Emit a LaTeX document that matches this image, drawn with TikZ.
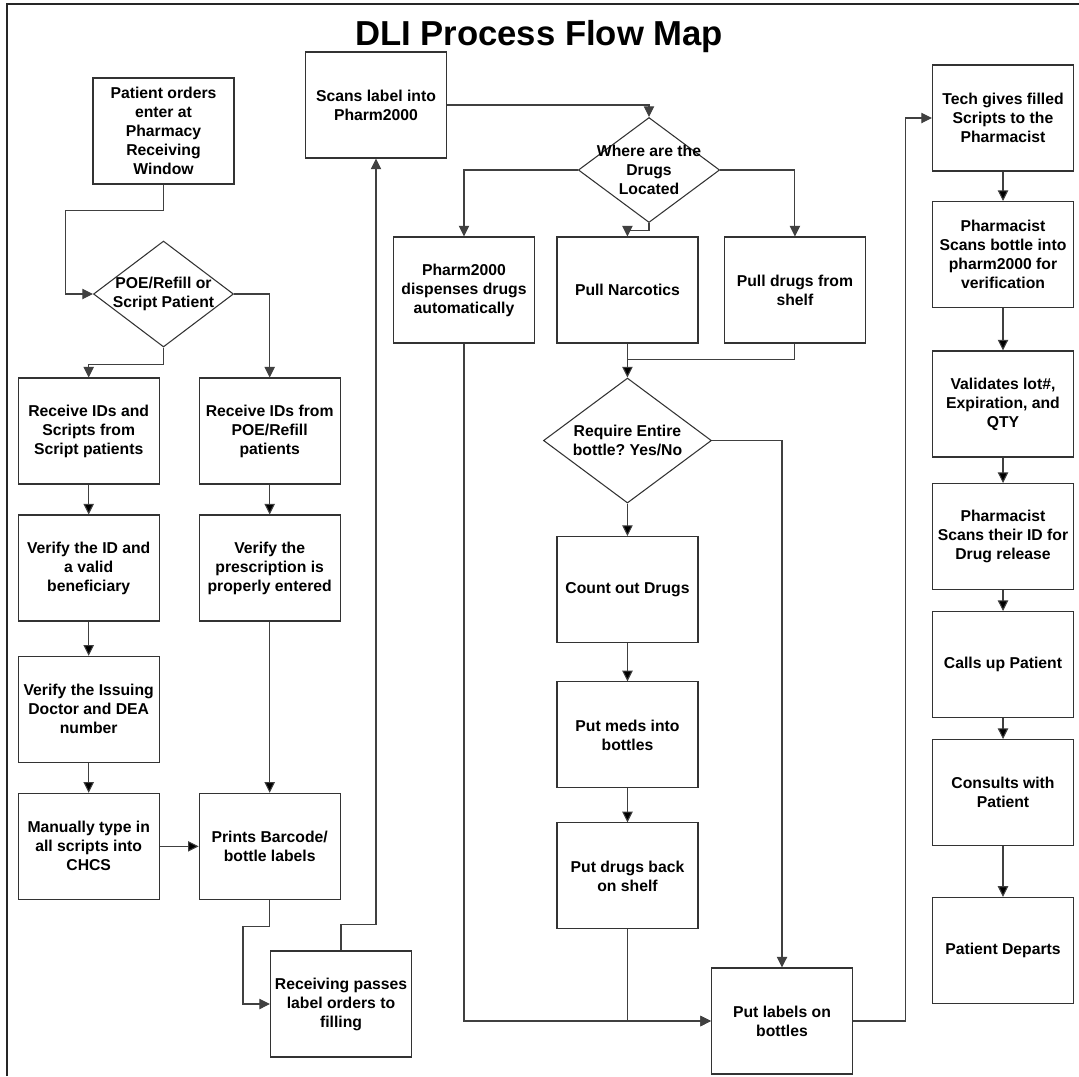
\documentclass[tikz,border=0pt]{standalone}
\usepackage{fontspec}
\setmainfont{Liberation Sans}
\usetikzlibrary{arrows.meta}
\usetikzlibrary{positioning}
\usetikzlibrary{shapes.geometric}
\frenchspacing

\tikzset{
  txt/.style={font=\bfseries\fontsize{11.8}{14.25}\selectfont, align=center},
  box/.style={draw=black!80, line width=0.8pt, rectangle, minimum width=105.75pt, minimum height=79.5pt, inner sep=2pt, txt},
  decision/.style={draw=black!80, line width=0.8pt, diamond, inner sep=0pt},
  flow/.style={->, draw=black!75, line width=0.8pt},
}

\begin{document}
\begin{tikzpicture}[x=0.75pt, y=-0.75pt, >={Triangle[length=8pt,width=7.8pt]}, node distance=102.75pt, on grid]
  \useasboundingbox (0,0) rectangle (1079,1076);
  \draw[black!85, line width=0.9pt] (7,1076) -- (7,4) -- (1079,4);
  \node[font=\bfseries\fontsize{26}{30}\selectfont, anchor=base] (title) at (539,45) {DLI Process Flow Map};

  % receiving side
  \node[box] (orders) at (163.5,131) {Patient orders\\enter at\\Pharmacy\\Receiving\\Window};
  \node[decision, minimum width=105pt, minimum height=79.5pt,
        label={[txt]center:POE/Refill or\\Script Patient}] (poe) [below=122.25pt of orders] {};
  \node[box] (recv1) at (88.7,431) {Receive IDs and\\Scripts from\\Script patients};
  \node[box] (recvpoe) [right=135.75pt of recv1] {Receive IDs from\\POE/Refill\\patients};
  \node[box] (verid) [below=of recv1] {Verify the ID and\\a valid\\beneficiary};
  \node[box] (issuing) [below=106pt of verid] {Verify the Issuing\\Doctor and DEA\\number};
  \node[box] (manual) [below=of issuing] {Manually type in\\all scripts into\\CHCS};
  \node[box] (verpres) [below=of recvpoe] {Verify the\\prescription is\\properly entered};
  \node[box] (prints) [right=135.75pt of manual] {Prints Barcode/\\bottle labels};
  \node[box] (recvpass) at (341,1004) {Receiving passes\\label orders to\\filling};

  % filling side
  \node[box] (scans) at (376,105) {Scans label into\\Pharm2000};
  \node[decision, minimum width=106pt, minimum height=78.75pt,
        label={[txt]center:Where are the\\Drugs\\Located}] (where) at (649,170) {};
  \node[box] (pharm) at (464,290) {Pharm2000\\dispenses drugs\\automatically};
  \node[box] (narc) [right=122.6pt of pharm] {Pull Narcotics};
  \node[box] (shelf) [right=125.6pt of narc] {Pull drugs from\\shelf};
  \node[decision, minimum width=126pt, minimum height=93.75pt,
        label={[txt]center:Require Entire\\bottle? Yes/No}] (require) [below=112.9pt of narc] {};
  \node[box] (count) [below=111.75pt of require] {Count out Drugs};
  \node[box] (meds) [below=109pt of count] {Put meds into\\bottles};
  \node[box] (back) [below=105.75pt of meds] {Put drugs back\\on shelf};
  \node[box] (labels) at (782,1021) {Put labels on\\bottles};

  % pharmacist side
  \node[box] (tech) at (1003,118) {Tech gives filled\\Scripts to the\\Pharmacist};
  \node[box] (pscan) [below=102.4pt of tech] {Pharmacist\\Scans bottle into\\pharm2000 for\\verification};
  \node[box] (valid) [below=112.1pt of pscan] {Validates lot\#,\\Expiration, and\\QTY};
  \node[box] (pscanid) [below=99.4pt of valid] {Pharmacist\\Scans their ID for\\Drug release};
  \node[box] (calls) [below=96pt of pscanid] {Calls up Patient};
  \node[box] (consults) [below=96pt of calls] {Consults with\\Patient};
  \node[box] (departs) [below=118.4pt of consults] {Patient Departs};

  \draw[flow] (recv1) edge (verid)
              (verid) edge (issuing)
              (issuing) edge (manual)
              (manual) edge (prints)
              (recvpoe) edge (verpres)
              (verpres) edge (prints)
              (narc) edge (require)
              (require) edge (count)
              (count) edge (meds)
              (meds) edge (back)
              (tech) edge (pscan)
              (pscan) edge (valid)
              (valid) edge (pscanid)
              (pscanid) edge (calls)
              (calls) edge (consults)
              (consults) edge (departs);

  \draw[flow] (orders.south) -- ++(0,26) -| ([xshift=-20.6pt]poe.west) -- (poe.west);
  \draw[flow] (poe.south) -- ++(0,17) -| (recv1.north);
  \draw[flow] (poe.east) -| (recvpoe.north);
  \draw[flow] (prints.south) -- ++(0,27) -| ([xshift=-20.25pt]recvpass.west) -- (recvpass.west);
  \draw[flow] (recvpass.north) -- ++(0,-26) -| (scans.south);
  \draw[flow] (scans.east) -| (where.north);
  \draw[flow] (where.west) -| (pharm.north);
  \draw[flow] (where.south) -- ++(0,7) -| (narc.north);
  \draw[flow] (where.east) -| (shelf.north);
  \draw[flow, -] (shelf.south) |- ([yshift=-12pt]narc.south);
  \draw[flow] (require.east) -| (labels.north);
  \draw[flow] (back.south) |- (labels.west);
  \draw[flow] (pharm.south) |- (labels.west);
  \draw[flow] (labels.east) -- ++(52,0) |- (tech.west);
\end{tikzpicture}
\end{document}
